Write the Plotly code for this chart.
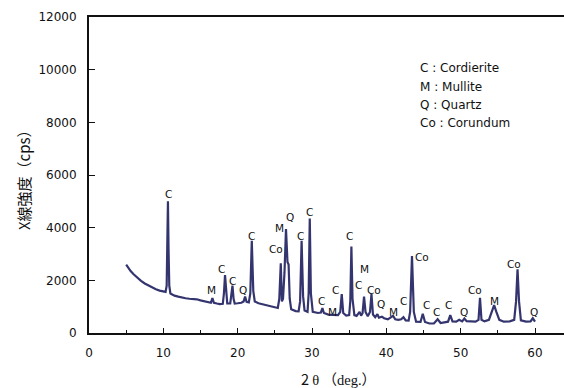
import plotly.graph_objects as go

# XRD profile (2theta in deg, intensity in cps)
two_theta = [
    5.0, 5.3, 5.6, 6.0, 6.5, 7.0, 7.5, 8.0, 8.5, 9.0, 9.5, 10.0, 10.3,
    10.45, 10.55, 10.62, 10.7, 10.8, 10.95, 11.5, 12.0, 12.5, 13.0, 13.5,
    14.0, 14.5, 15.0, 15.5, 16.0, 16.4, 16.6, 16.8, 17.2, 17.6, 18.0, 18.15,
    18.3, 18.45, 18.6, 19.0, 19.15, 19.3, 19.45, 19.6, 20.0, 20.5, 20.8, 21.0,
    21.2, 21.5, 21.7, 21.9, 22.1, 22.3, 22.8, 23.5, 24.0, 24.5, 25.0, 25.4,
    25.6, 25.8, 25.95, 26.1, 26.3, 26.5, 26.7, 26.85, 27.0, 27.2, 27.8, 28.2,
    28.4, 28.6, 28.8, 29.0, 29.4, 29.55, 29.7, 29.85, 30.1, 30.8, 31.2, 31.4,
    31.6, 32.2, 32.8, 33.2, 33.5, 33.8, 34.0, 34.2, 34.6, 35.0, 35.15, 35.3,
    35.45, 35.7, 36.0, 36.4, 36.6, 36.8, 37.0, 37.2, 37.5, 37.8, 38.0, 38.2,
    38.5, 38.8, 39.0, 39.4, 39.7, 40.2, 40.6, 40.9, 41.2, 41.6, 42.0, 42.3,
    42.6, 43.0, 43.2, 43.45, 43.7, 44.0, 44.6, 44.9, 45.2, 45.8, 46.4, 46.9,
    47.3, 47.8, 48.3, 48.6, 48.9, 49.4, 49.8, 50.2, 50.5, 50.8, 51.4, 52.0,
    52.4, 52.6, 52.8, 53.2, 53.8, 54.2, 54.5, 54.8, 55.2, 55.8, 56.6, 57.2,
    57.45, 57.65, 57.85, 58.1, 58.8, 59.4, 59.7, 60.0,
]
intensity = [
    2600, 2450, 2350, 2230, 2100, 1980, 1880, 1800, 1720, 1660, 1610, 1580, 1560,
    1800, 3500, 5000, 3200, 1800, 1500, 1420, 1380, 1340, 1320, 1300,
    1290, 1280, 1240, 1200, 1170, 1150, 1330, 1150, 1120, 1100, 1110, 1500,
    2200, 1400, 1120, 1120, 1400, 1800, 1300, 1120, 1130, 1150, 1200, 1380,
    1180, 1160, 1500, 3500, 1600, 1200, 1130, 1080, 1050, 1010, 980, 950,
    1300, 2650, 1200, 1300, 2300, 3950, 2700, 2600, 1300, 900, 830, 820,
    1200, 3500, 1400, 850, 800, 1500, 4350, 1500, 800, 760, 780, 950,
    760, 700, 690, 700, 680, 800, 1480, 760, 660, 680, 1200, 3280,
    1300, 680, 650, 800, 660, 750, 1380, 800, 640, 800, 1480, 700,
    600, 720, 580, 620, 560, 520, 580, 650, 520, 500, 520, 600,
    480, 470, 800, 2920, 800, 430, 420, 730, 420, 360, 360, 520,
    380, 400, 430, 680, 440, 430, 500, 440, 550, 450, 430, 430,
    500, 1340, 500, 440, 500, 800, 1060, 800, 500, 430, 440, 500,
    1200, 2420, 1200, 480, 430, 440, 560, 430,
]

# Phase labels above the peaks (text, 2theta, cps)
peak_text = ["C", "M", "C", "C", "Q", "C", "Co", "M", "Q", "C", "C", "C", "M",
             "C", "C", "C", "M", "Co", "Q", "M", "C", "Co", "C", "C", "C", "Q",
             "Co", "M", "Co", "Q"]
peak_x = [10.66, 16.5, 17.84, 19.27, 20.75, 21.87, 25.22, 25.58, 27.0, 28.45,
          29.7, 31.27, 32.8, 33.2, 35.08, 36.3, 37.1, 38.35, 39.34, 40.9,
          42.25, 44.85, 45.38, 46.8, 48.3, 50.5, 51.98, 54.57, 57.16, 59.8]
peak_y = [5280, 1633, 2420, 1975, 1633, 3683, 3190, 3998, 4416, 3683,
          4606, 1227, 810, 1633, 3683, 1823, 2420, 1633, 1090, 786,
          1215, 2874, 1063, 786, 1063, 786, 1633, 1215, 2620, 786]

legend_lines = ["C : Cordierite", "M : Mullite", "Q : Quartz", "Co : Corundum"]

x_ticks = [0, 10, 20, 30, 40, 50, 60]
y_ticks = [0, 2000, 4000, 6000, 8000, 10000, 12000]

FONT = "DejaVu Sans, Noto Sans CJK JP, sans-serif"
W, H = 564, 388
ML, MR, MT, MB = 89, 0, 17, 55

fig = go.Figure()
fig.add_trace(go.Scatter(
    x=two_theta, y=intensity, mode="lines",
    line=dict(color="#34356f", width=2.2),
    showlegend=False, hoverinfo="skip",
))

for t, xx, yy in zip(peak_text, peak_x, peak_y):
    fig.add_annotation(x=xx, y=yy, xref="x", yref="y", text=t, showarrow=False,
                       font=dict(family=FONT, size=10.5, color="#111"),
                       xanchor="center", yanchor="middle")

plot_h = H - MT - MB
plot_w = W - ML - MR
leg_px_y = [68.3, 87.0, 105.3, 122.7]
for t, py in zip(legend_lines, leg_px_y):
    fig.add_annotation(x=(418 - ML) / plot_w, y=(H - MB - py) / plot_h,
                       xref="paper", yref="paper", text=t, showarrow=False,
                       font=dict(family=FONT, size=12, color="#111"),
                       xanchor="left", yanchor="middle")

# axis titles
fig.add_annotation(x=(23 - ML) / plot_w, y=(H - MB - 176) / plot_h,
                   xref="paper", yref="paper", text="X線強度（cps）",
                   textangle=-90, showarrow=False,
                   font=dict(family="Noto Sans CJK JP", size=15, color="#111"),
                   xanchor="center", yanchor="middle")
fig.add_annotation(x=(338 - ML) / plot_w, y=(H - MB - 378) / plot_h,
                   xref="paper", yref="paper",
                   text="2 <span style=\"font-family:'Liberation Serif'\">θ</span> "
                        "（<span style=\"font-family:'Liberation Serif'\">deg.</span>）",
                   showarrow=False,
                   font=dict(family="Noto Sans CJK JP", size=14.5, color="#111"),
                   xanchor="center", yanchor="middle")

fig.update_layout(
    width=W, height=H,
    margin=dict(l=ML, r=MR, t=MT, b=MB, pad=0, autoexpand=False),
    paper_bgcolor="white", plot_bgcolor="white",
    font=dict(family=FONT, size=12, color="#111"),
)
fig.update_xaxes(
    range=[0, 63.9], tickvals=x_ticks, ticktext=[str(v) for v in x_ticks],
    ticks="inside", ticklen=5, tickwidth=1.2, tickcolor="#111",
    minor=dict(ticks="inside", ticklen=3, dtick=5, tick0=0, tickcolor="#111", tickwidth=1),
    showline=True, linecolor="#111", linewidth=2, mirror=True,
    showgrid=False, zeroline=False, ticklabelstandoff=8, automargin=False,
    tickfont=dict(family=FONT, size=12, color="#111"),
)
fig.update_yaxes(
    range=[0, 12000], tickvals=y_ticks, ticktext=[str(v) for v in y_ticks],
    ticks="inside", ticklen=6, tickwidth=1.2, tickcolor="#111",
    showline=True, linecolor="#111", linewidth=2, mirror=False,
    showgrid=False, zeroline=False, ticklabelstandoff=8, automargin=False,
    tickfont=dict(family=FONT, size=12, color="#111"),
)

fig.write_html("out.html", config={"displayModeBar": False},
               post_script="document.body.style.margin='0';document.body.style.padding='0';")
